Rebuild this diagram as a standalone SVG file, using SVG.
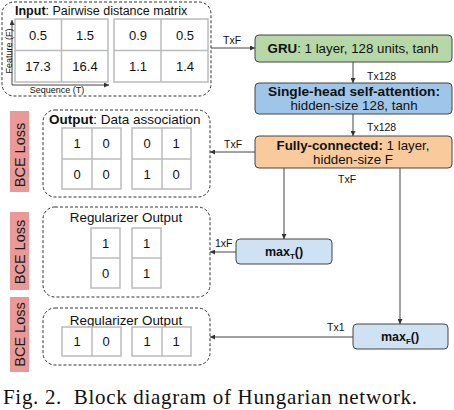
<svg xmlns="http://www.w3.org/2000/svg" width="454" height="410" viewBox="0 0 454 410">
<defs>
<marker id="ah" viewBox="0 0 6 6" refX="6" refY="3" markerWidth="5" markerHeight="5" orient="auto"><path d="M0,0 L6,3 L0,6 z" fill="#333"/></marker>
<style>
text{font-family:"Liberation Sans",Arial,sans-serif;fill:#111}
.dash{fill:none;stroke:#333;stroke-width:1;stroke-dasharray:3,2}
.cell{fill:#fff;stroke:#bbb;stroke-width:1.5}
.v{font-size:13px;text-anchor:middle}
.lbl{font-size:10.5px}
.node{stroke:#444;stroke-width:1}
.nt{font-size:13.3px;text-anchor:middle}
.c{fill:none;stroke:#444;stroke-width:1}
.bce{fill:#ea9999}
.bt{font-size:14.5px;text-anchor:middle;fill:#1a1a1a}
</style>
</defs>
<rect width="454" height="410" fill="#fff"/>

<g id="input">
<rect class="dash" x="2" y="2" width="209" height="94" rx="12"/>
<text x="15" y="15" font-size="12.5"><tspan font-weight="bold">Input</tspan>: Pairwise distance matrix</text>
<rect class="cell" x="15" y="19" width="93" height="63"/>
<line class="cell" x1="61.5" y1="19" x2="61.5" y2="82"/>
<line class="cell" x1="15" y1="50.5" x2="108" y2="50.5"/>
<rect class="cell" x="114" y="19" width="94" height="63"/>
<line class="cell" x1="161" y1="19" x2="161" y2="82"/>
<line class="cell" x1="114" y1="50.5" x2="208" y2="50.5"/>
<text class="v" x="38" y="40">0.5</text><text class="v" x="85" y="40">1.5</text>
<text class="v" x="38" y="71">17.3</text><text class="v" x="85" y="71">16.4</text>
<text class="v" x="138" y="40">0.9</text><text class="v" x="185" y="40">0.5</text>
<text class="v" x="138" y="71">1.1</text><text class="v" x="185" y="71">1.4</text>
<line x1="12" y1="85" x2="12" y2="20" stroke="#444" stroke-width="1" marker-end="url(#ah)"/>
<line x1="12" y1="85" x2="109" y2="85" stroke="#444" stroke-width="1" marker-end="url(#ah)"/>
<text x="9" y="51" font-size="9" text-anchor="middle" transform="rotate(-90 9 51)" dy="3">Feature (F)</text>
<text x="57" y="93" font-size="9" text-anchor="middle">Sequence (T)</text>
</g>

<g id="gru">
<rect class="node" x="255" y="35" width="197" height="27" rx="4" fill="#b6d7a8"/>
<text class="nt" x="353" y="53"><tspan font-weight="bold">GRU</tspan>: 1 layer, 128 units, tanh</text>
</g>

<g id="attention">
<rect class="node" x="255" y="83" width="197" height="31" rx="4" fill="#9fc5e8"/>
<text class="nt" x="354" y="96" font-weight="bold" textLength="172" lengthAdjust="spacingAndGlyphs">Single-head self-attention:</text>
<text class="nt" x="354" y="110">hidden-size 128, tanh</text>
</g>

<g id="fc">
<rect class="node" x="255" y="136" width="197" height="32" rx="4" fill="#f9cb9c"/>
<text class="nt" x="353" y="150"><tspan font-weight="bold">Fully-connected:</tspan> 1 layer,</text>
<text class="nt" x="353" y="164">hidden-size F</text>
</g>

<g id="maxT">
<rect class="node" x="236" y="239" width="96" height="25" rx="4" fill="#cfe2f3"/>
<text x="284" y="256" font-size="12.5" text-anchor="middle" font-weight="bold">max<tspan font-size="8" dy="3">T</tspan><tspan dy="-3">()</tspan></text>
</g>

<g id="maxF">
<rect class="node" x="353" y="324" width="95" height="25" rx="4" fill="#cfe2f3"/>
<text x="400" y="341" font-size="12.5" text-anchor="middle" font-weight="bold">max<tspan font-size="8" dy="3">F</tspan><tspan dy="-3">()</tspan></text>
</g>

<g id="output">
<rect class="dash" x="43" y="110" width="167" height="87" rx="12"/>
<text x="49" y="124" font-size="13.5"><tspan font-weight="bold">Output</tspan>: Data association</text>
<rect class="cell" x="62" y="128" width="59" height="61"/>
<line class="cell" x1="92" y1="128" x2="92" y2="189"/>
<line class="cell" x1="62" y1="159" x2="121" y2="159"/>
<rect class="cell" x="132" y="128" width="59" height="61"/>
<line class="cell" x1="162" y1="128" x2="162" y2="189"/>
<line class="cell" x1="132" y1="159" x2="191" y2="159"/>
<text class="v" x="77" y="148">1</text><text class="v" x="106" y="148">0</text>
<text class="v" x="77" y="179">0</text><text class="v" x="106" y="179">0</text>
<text class="v" x="147" y="148">0</text><text class="v" x="176" y="148">1</text>
<text class="v" x="147" y="179">1</text><text class="v" x="176" y="179">0</text>
</g>

<g id="reg1">
<rect class="dash" x="43" y="207" width="167" height="90" rx="12"/>
<text x="126" y="222" font-size="13.4" text-anchor="middle">Regularizer Output</text>
<rect class="cell" x="91" y="228" width="29" height="60"/>
<line class="cell" x1="91" y1="258" x2="120" y2="258"/>
<rect class="cell" x="132" y="228" width="29" height="60"/>
<line class="cell" x1="132" y1="258" x2="161" y2="258"/>
<text class="v" x="105.5" y="248">1</text><text class="v" x="105.5" y="278">0</text>
<text class="v" x="146.5" y="248">1</text><text class="v" x="146.5" y="278">1</text>
</g>

<g id="reg2">
<rect class="dash" x="43" y="308" width="167" height="57" rx="12"/>
<text x="126" y="325" font-size="13.4" text-anchor="middle">Regularizer Output</text>
<rect class="cell" x="62" y="327" width="59" height="29"/>
<line class="cell" x1="92" y1="327" x2="92" y2="356"/>
<rect class="cell" x="132" y="327" width="59" height="29"/>
<line class="cell" x1="162" y1="327" x2="162" y2="356"/>
<text class="v" x="77" y="346">1</text><text class="v" x="106" y="346">0</text>
<text class="v" x="147" y="346">1</text><text class="v" x="176" y="346">1</text>
</g>

<g id="bce1"><rect class="bce" x="10" y="111" width="19" height="81"/><text class="bt" x="19.5" y="155" dy="5" transform="rotate(-90 19.5 155)">BCE Loss</text></g>
<g id="bce2"><rect class="bce" x="10" y="212" width="19" height="78"/><text class="bt" x="19.5" y="252" dy="5" transform="rotate(-90 19.5 252)">BCE Loss</text></g>
<g id="bce3"><rect class="bce" x="10" y="297" width="19" height="75"/><text class="bt" x="19.5" y="334.5" dy="5" transform="rotate(-90 19.5 334.5)">BCE Loss</text></g>

<g id="connectors">
<line class="c" x1="211" y1="48" x2="255" y2="48" marker-end="url(#ah)"/>
<text class="lbl" x="223" y="44">TxF</text>
<line class="c" x1="353" y1="62" x2="353" y2="83" marker-end="url(#ah)"/>
<text class="lbl" x="367" y="80" font-size="11">Tx128</text>
<line class="c" x1="353" y1="114" x2="353" y2="136" marker-end="url(#ah)"/>
<text class="lbl" x="367" y="131" font-size="11">Tx128</text>
<line class="c" x1="255" y1="152" x2="210" y2="152" marker-end="url(#ah)"/>
<text class="lbl" x="224" y="148">TxF</text>
<line class="c" x1="284" y1="168" x2="284" y2="239" marker-end="url(#ah)"/>
<line class="c" x1="400" y1="168" x2="400" y2="324" marker-end="url(#ah)"/>
<text class="lbl" x="338" y="183">TxF</text>
<line class="c" x1="236" y1="252" x2="210" y2="252" marker-end="url(#ah)"/>
<text class="lbl" x="215" y="247">1xF</text>
<line class="c" x1="353" y1="337" x2="210" y2="337" marker-end="url(#ah)"/>
<text class="lbl" x="327" y="331">Tx1</text>
</g>

<text x="3" y="404" font-size="21" xml:space="preserve" textLength="414" style="font-family:'Liberation Serif','Times New Roman',serif">Fig. 2.  Block diagram of Hungarian network.</text>
</svg>
